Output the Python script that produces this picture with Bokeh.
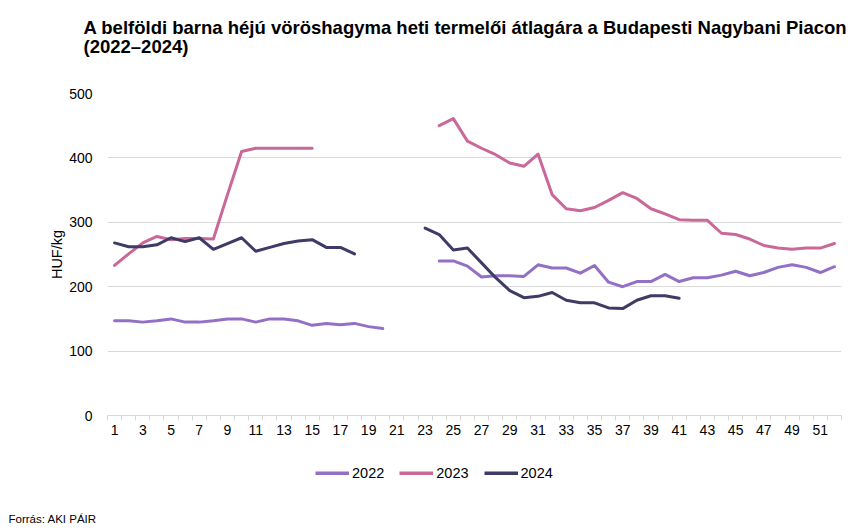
from bokeh.plotting import figure
from bokeh.layouts import column
from bokeh.models import (ColumnDataSource, Range1d, FixedTicker, Legend, LegendItem, Label)
from bokeh.embed import file_html
from bokeh.resources import INLINE

weeks = list(range(1, 53))
x_ticks = list(range(1, 52, 2))
y_ticks = [0, 100, 200, 300, 400, 500]

y2022 = [147, 147, 145, 147, 150, 145, 145, 147, 150, 150, 145, 150, 150, 147, 140, 143, 141, 143, 138, 135,
         None, None, None,
         240, 240, 232, 215, 217, 217, 216, 234, 229, 229, 221, 233, 207, 200, 208, 208, 219, 208, 214, 214,
         218, 224, 217, 222, 230, 234, 230, 222, 231]
y2023 = [233, 251, 268, 278, 273, 275, 275, 274, 343, 410, 415, 415, 415, 415, 415,
         None, None, None, None, None, None, None, None,
         450, 461, 426, 415, 405, 392, 387, 406, 343, 321, 318, 323, 334, 346, 337, 321, 313, 304, 303, 303,
         283, 281, 274, 264, 260, 258, 260, 260, 267]
y2024 = [268, 262, 262, 265, 276, 270, 276, 258, 267, 276, 255, 261, 267, 271, 273, 261, 261, 251,
         None, None, None, None,
         291, 281, 257, 260, 237, 214, 194, 183, 185, 191, 179, 175, 175, 167, 166, 179, 186, 186, 182,
         None, None, None, None, None, None, None, None, None, None, None]

series_names = ["2022", "2023", "2024"]
series_values = [y2022, y2023, y2024]
colors = ["#9370c6", "#c96899", "#3e3b66"]

title_line1 = "A belföldi barna héjú vöröshagyma heti termelői átlagára a Budapesti Nagybani Piacon"
title_line2 = "(2022–2024)"
y_label = "HUF/kg"
source_text = "Forrás: AKI PÁIR"

FONT = "Liberation Sans"
W = 853
NAN = float("nan")


def strip(height):
    fig = figure(width=W, height=height, output_backend="svg", toolbar_location=None,
                 x_axis_type=None, y_axis_type=None,
                 x_range=Range1d(0, W), y_range=Range1d(height, 0),
                 min_border=0, min_border_left=0, min_border_right=0,
                 min_border_top=0, min_border_bottom=0)
    fig.grid.visible = False
    fig.outline_line_color = None
    fig.background_fill_color = "white"
    fig.border_fill_color = "white"
    if "frame_align" in fig.properties():
        fig.frame_align = False
    return fig


# --- title strip ---
TH = 83
t = strip(TH)
t.add_layout(Label(x=83, y=27, text=title_line1, text_font=FONT, text_font_size="18.5px",
                   text_font_style="bold", text_color="#000000", text_baseline="middle", text_align="left"))
t.add_layout(Label(x=83, y=46, text=title_line2, text_font=FONT, text_font_size="18.5px",
                   text_font_style="bold", text_color="#000000", text_baseline="middle", text_align="left"))

# --- main chart ---
p = figure(width=W, height=367, output_backend="svg", toolbar_location=None,
           x_range=Range1d(0.5, 52.5), y_range=Range1d(0, 500),
           min_border_left=107, min_border_right=12, min_border_top=10, min_border_bottom=35)
p.outline_line_color = None
p.background_fill_color = "white"
p.border_fill_color = "white"
if "frame_align" in p.properties():
    p.frame_align = False

p.xgrid.grid_line_color = None
p.ygrid.grid_line_color = "#d9d9d9"
p.ygrid.grid_line_width = 1
p.ygrid.ticker = FixedTicker(ticks=y_ticks)

p.yaxis.ticker = FixedTicker(ticks=y_ticks)
p.yaxis.axis_line_color = None
p.yaxis.major_tick_line_color = None
p.yaxis.minor_tick_line_color = None
p.yaxis.major_label_text_font = FONT
p.yaxis.major_label_text_font_size = "14px"
p.yaxis.major_label_text_color = "#000000"
p.yaxis.major_label_standoff = 9
p.yaxis.axis_label = y_label
p.yaxis.axis_label_text_font = FONT
p.yaxis.axis_label_text_font_size = "14.5px"
p.yaxis.axis_label_text_font_style = "normal"
p.yaxis.axis_label_text_color = "#000000"
p.yaxis.axis_label_standoff = 1

p.xaxis.ticker = FixedTicker(ticks=x_ticks, minor_ticks=[w + 0.5 for w in range(0, 53)])
p.xaxis.axis_line_color = "#d9d9d9"
p.xaxis.major_tick_line_color = None
p.xaxis.minor_tick_line_color = "#d9d9d9"
p.xaxis.minor_tick_in = 0
p.xaxis.minor_tick_out = 5
p.xaxis.major_label_text_font = FONT
p.xaxis.major_label_text_font_size = "14px"
p.xaxis.major_label_text_color = "#000000"
p.xaxis.major_label_standoff = 3

for name, vals, col in zip(series_names, series_values, colors):
    ys = [NAN if v is None else v for v in vals]
    src = ColumnDataSource(dict(x=weeks, y=ys))
    p.line("x", "y", source=src, line_color=col, line_width=3, line_join="round", line_cap="round")

# --- legend + source strip ---
LH = 75
q = strip(LH)
items = []
for name, col in zip(series_names, colors):
    r = q.line(x=[NAN], y=[NAN], line_color=col, line_width=4)
    items.append(LegendItem(label=name, renderers=[r]))
legend = Legend(items=items, orientation="horizontal", location=(315, 44),
                label_text_font=FONT, label_text_font_size="14.5px", label_text_color="#000000",
                glyph_width=34, glyph_height=4, spacing=15, label_standoff=3,
                border_line_color=None, background_fill_alpha=0, margin=0, padding=0)
q.add_layout(legend, "center")
q.add_layout(Label(x=8, y=68, text=source_text, text_font=FONT, text_font_size="11.5px",
                   text_color="#000000", text_baseline="middle", text_align="left"))

layout = column(t, p, q, spacing=0)
open("out.html", "w").write(file_html(layout, INLINE))
